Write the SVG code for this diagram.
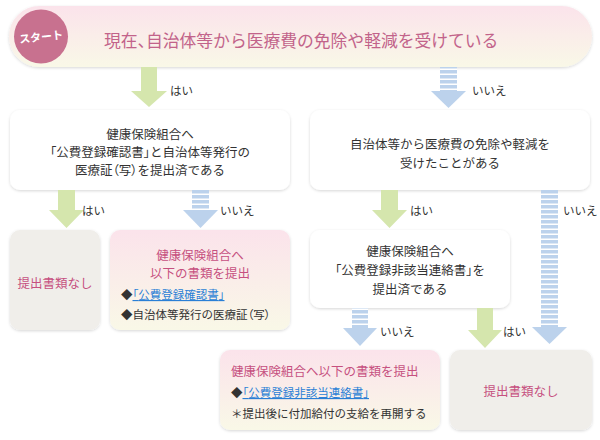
<svg xmlns="http://www.w3.org/2000/svg" width="600" height="440" viewBox="0 0 600 440">
<defs>
<linearGradient id="gPink" x1="0" y1="0" x2="0" y2="1"><stop offset="0" stop-color="#fbe3eb"/><stop offset="1" stop-color="#f9f8e7"/></linearGradient>
<pattern id="stripe" patternUnits="userSpaceOnUse" width="10" height="5"><rect width="10" height="5" fill="#ffffff"/><rect width="10" height="3.5" fill="#bcd2ec"/></pattern>
<filter id="sh" x="-10%" y="-10%" width="120%" height="130%"><feDropShadow dx="0" dy="1" stdDeviation="1.6" flood-color="#000" flood-opacity="0.16"/></filter>
</defs>
<style>
text{font-family:"Noto Sans CJK JP","Noto Sans",sans-serif;dominant-baseline:central}
.p{font-feature-settings:"palt"}
.box{fill:#ffffff;filter:url(#sh)}
.pink{fill:url(#gPink);filter:url(#sh)}
.grey{fill:#f0eeea;filter:url(#sh)}
.t{font-size:12.5px;fill:#333333}
.c{text-anchor:middle}
.pt{font-size:12.5px;fill:#c6507f}
.b{font-size:11.5px;fill:#333333}
.lk{fill:#2a7fd6;text-decoration:underline}
.lb{font-size:11.5px;fill:#333333}
.g{fill:#d5e6ad}
.bl{fill:#bcd2ec}
.st{fill:url(#stripe)}
</style>
<g id="start">
<rect x="9" y="6" width="583" height="61" rx="30.5" class="pink"/>
<circle cx="41" cy="36.5" r="27" fill="#c8718f"/>
<text x="41" y="36" class="c" font-size="11" font-weight="bold" fill="#ffffff" transform="rotate(-6 41 36)">スタート</text>
<text x="104" y="40" font-size="16.8" fill="#c2638a">現在<tspan class="p">、</tspan>自治体等から医療費の免除や軽減を受けている</text>
</g>
<g id="q1">
<rect x="10" y="110" width="280" height="80" rx="10" class="box"/>
<text x="150" y="133" class="t c">健康保険組合へ</text>
<text x="150" y="151" class="t c"><tspan class="p">「</tspan>公費登録確認書<tspan class="p">」</tspan>と自治体等発行の</text>
<text x="150" y="169" class="t c">医療証<tspan class="p">（</tspan>写<tspan class="p">）</tspan>を提出済である</text>
</g>
<g id="q2">
<rect x="310" y="110" width="280" height="80" rx="10" class="box"/>
<text x="450" y="143" class="t c">自治体等から医療費の免除や軽減を</text>
<text x="450" y="162" class="t c">受けたことがある</text>
</g>
<g id="none1">
<rect x="10" y="230" width="90" height="100" rx="10" class="grey"/>
<text x="55" y="282" class="pt c">提出書類なし</text>
</g>
<g id="submit1">
<rect x="110" y="230" width="180" height="100" rx="10" class="pink"/>
<text x="200" y="254.5" class="pt c">健康保険組合へ</text>
<text x="200" y="272" class="pt c">以下の書類を提出</text>
<text x="121" y="294" class="b">◆<tspan class="lk"><tspan class="p">「</tspan>公費登録確認書<tspan class="p">」</tspan></tspan></text>
<text x="121" y="314" class="b">◆自治体等発行の医療証<tspan class="p">（</tspan>写<tspan class="p">）</tspan></text>
</g>
<g id="q3">
<rect x="310" y="230" width="200" height="78" rx="10" class="box"/>
<text x="410" y="250" class="t c">健康保険組合へ</text>
<text x="410" y="269" class="t c"><tspan class="p">「</tspan>公費登録非該当連絡書<tspan class="p">」</tspan>を</text>
<text x="410" y="288" class="t c">提出済である</text>
</g>
<g id="submit2">
<rect x="220" y="350" width="220" height="80" rx="10" class="pink"/>
<text x="231" y="370" class="pt">健康保険組合へ以下の書類を提出</text>
<text x="231" y="392" class="b">◆<tspan class="lk"><tspan class="p">「</tspan>公費登録非該当連絡書<tspan class="p">」</tspan></tspan></text>
<text x="231" y="413" class="b">＊提出後に付加給付の支給を再開する</text>
</g>
<g id="none2">
<rect x="450" y="350" width="142" height="80" rx="10" class="grey"/>
<text x="521" y="390" class="pt c">提出書類なし</text>
</g>
<g id="connectors">
<path class="g" d="M141,67 H157 V91 H167 L149,107 L131,91 H141 Z"/>
<text x="170" y="90" class="lb">はい</text>
<rect x="440" y="67" width="17" height="24" class="st"/>
<path class="bl" d="M431,91 H466 L448.5,108 Z"/>
<text x="472" y="90" class="lb">いいえ</text>
<path class="g" d="M58,190 H75 V210 H84 L66.5,228 L49,210 H58 Z"/>
<text x="82" y="210" class="lb">はい</text>
<rect x="192" y="190" width="17" height="20" class="st"/>
<path class="bl" d="M183,210 H218 L200.5,228 Z"/>
<text x="220" y="210" class="lb">いいえ</text>
<path class="g" d="M381,190 H398 V210 H407 L389.5,228 L372,210 H381 Z"/>
<text x="410" y="210" class="lb">はい</text>
<rect x="541" y="190" width="17" height="137" class="st"/>
<path class="bl" d="M532,327 H567 L549.5,344 Z"/>
<text x="563" y="210" class="lb">いいえ</text>
<rect x="352" y="308" width="16" height="20" class="st"/>
<path class="bl" d="M343,328 H377 L360,346 Z"/>
<text x="380" y="331" class="lb">いいえ</text>
<path class="g" d="M477,308 H493 V330 H502 L485,348 L468,330 H477 Z"/>
<text x="503" y="331" class="lb">はい</text>
</g>
</svg>
